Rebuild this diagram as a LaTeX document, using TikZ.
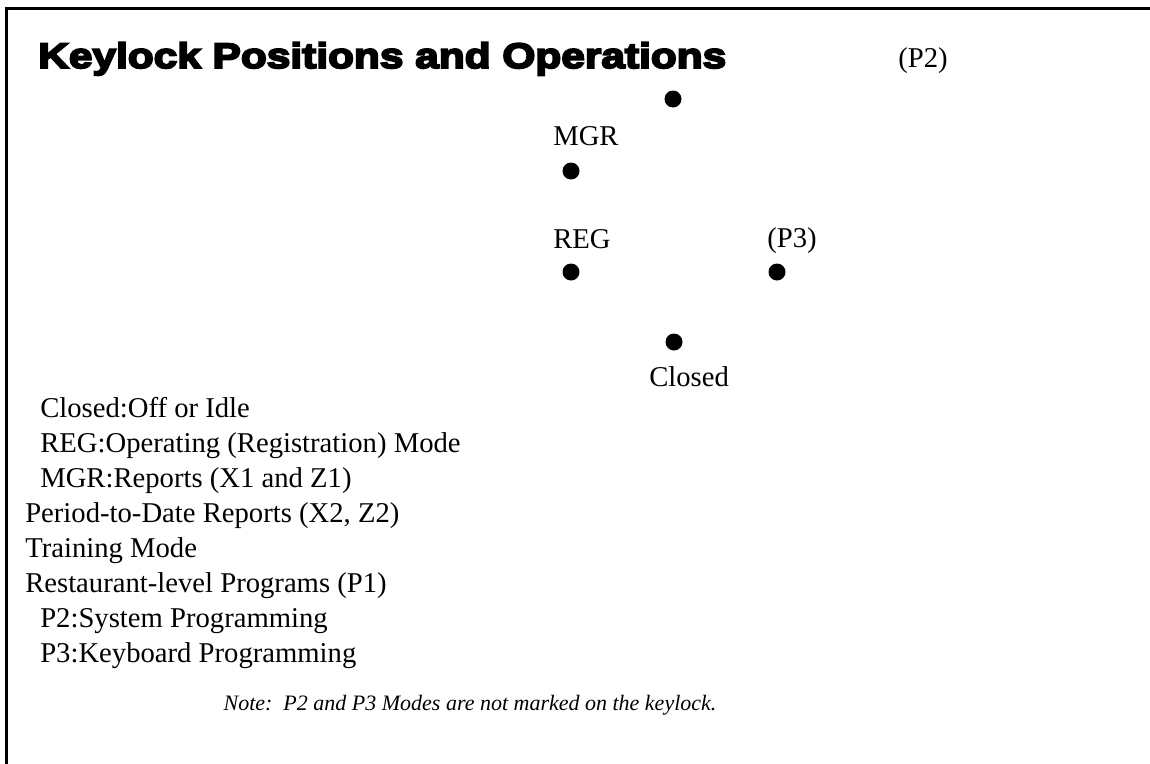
\documentclass[tikz,border=0pt]{standalone}
\usepackage{fontspec}
\setmainfont{Liberation Serif}
\newfontfamily\titlefont{Liberation Sans Bold}[FakeBold=5.5,FakeStretch=1.2]
\begin{document}
\begin{tikzpicture}[x=0.75pt,y=-0.75pt,
  txt/.style={anchor=base west,inner sep=0pt,font=\fontsize{21.5}{26}\selectfont},
  dot/.style={circle,fill=black,inner sep=0pt,minimum size=12.75pt},
  border/.style={line width=2.5pt,line cap=rect}]
\useasboundingbox (0,0) rectangle (1150,764);
\draw[border] (6.5,764) -- (6.5,8.5) -- (1150,8.5);
\node[anchor=base west,inner sep=0pt,font=\titlefont\fontsize{26.5}{30}\selectfont] (title) at (38,68) {Keylock Positions and Operations};
\node[txt] (p2lab) at (898,67) {(P2)};
\node[dot] (p2) at (673,99) {};
\node[txt] (mgrlab) at (553,145) {MGR};
\node[dot] (mgr) at (571,171) {};
\node[txt] (reglab) at (553,248) {REG};
\node[dot] (reg) at (571,272) {};
\node[txt] (p3lab) at (767,247) {(P3)};
\node[dot] (p3) at (777,272) {};
\node[dot] (closed) at (674,342) {};
\node[txt] (closedlab) at (649,386) {Closed};
\node[txt] (l1) at (40,417) {Closed:Off or Idle};
\node[txt] (l2) at (40,452) {REG:Operating (Registration) Mode};
\node[txt] (l3) at (40,487) {MGR:Reports (X1 and Z1)};
\node[txt] (l4) at (25,522) {Period-to-Date Reports (X2, Z2)};
\node[txt] (l5) at (25,557) {Training Mode};
\node[txt] (l6) at (25,592) {Restaurant-level Programs (P1)};
\node[txt] (l7) at (40,627) {P2:System Programming};
\node[txt] (l8) at (40,662) {P3:Keyboard Programming};
\node[anchor=base,inner sep=0pt,font=\itshape\fontsize{16.5}{20}\selectfont] (note) at (470,710) {Note:\ \ P2 and P3 Modes are not marked on the keylock.};
\end{tikzpicture}
\end{document}
